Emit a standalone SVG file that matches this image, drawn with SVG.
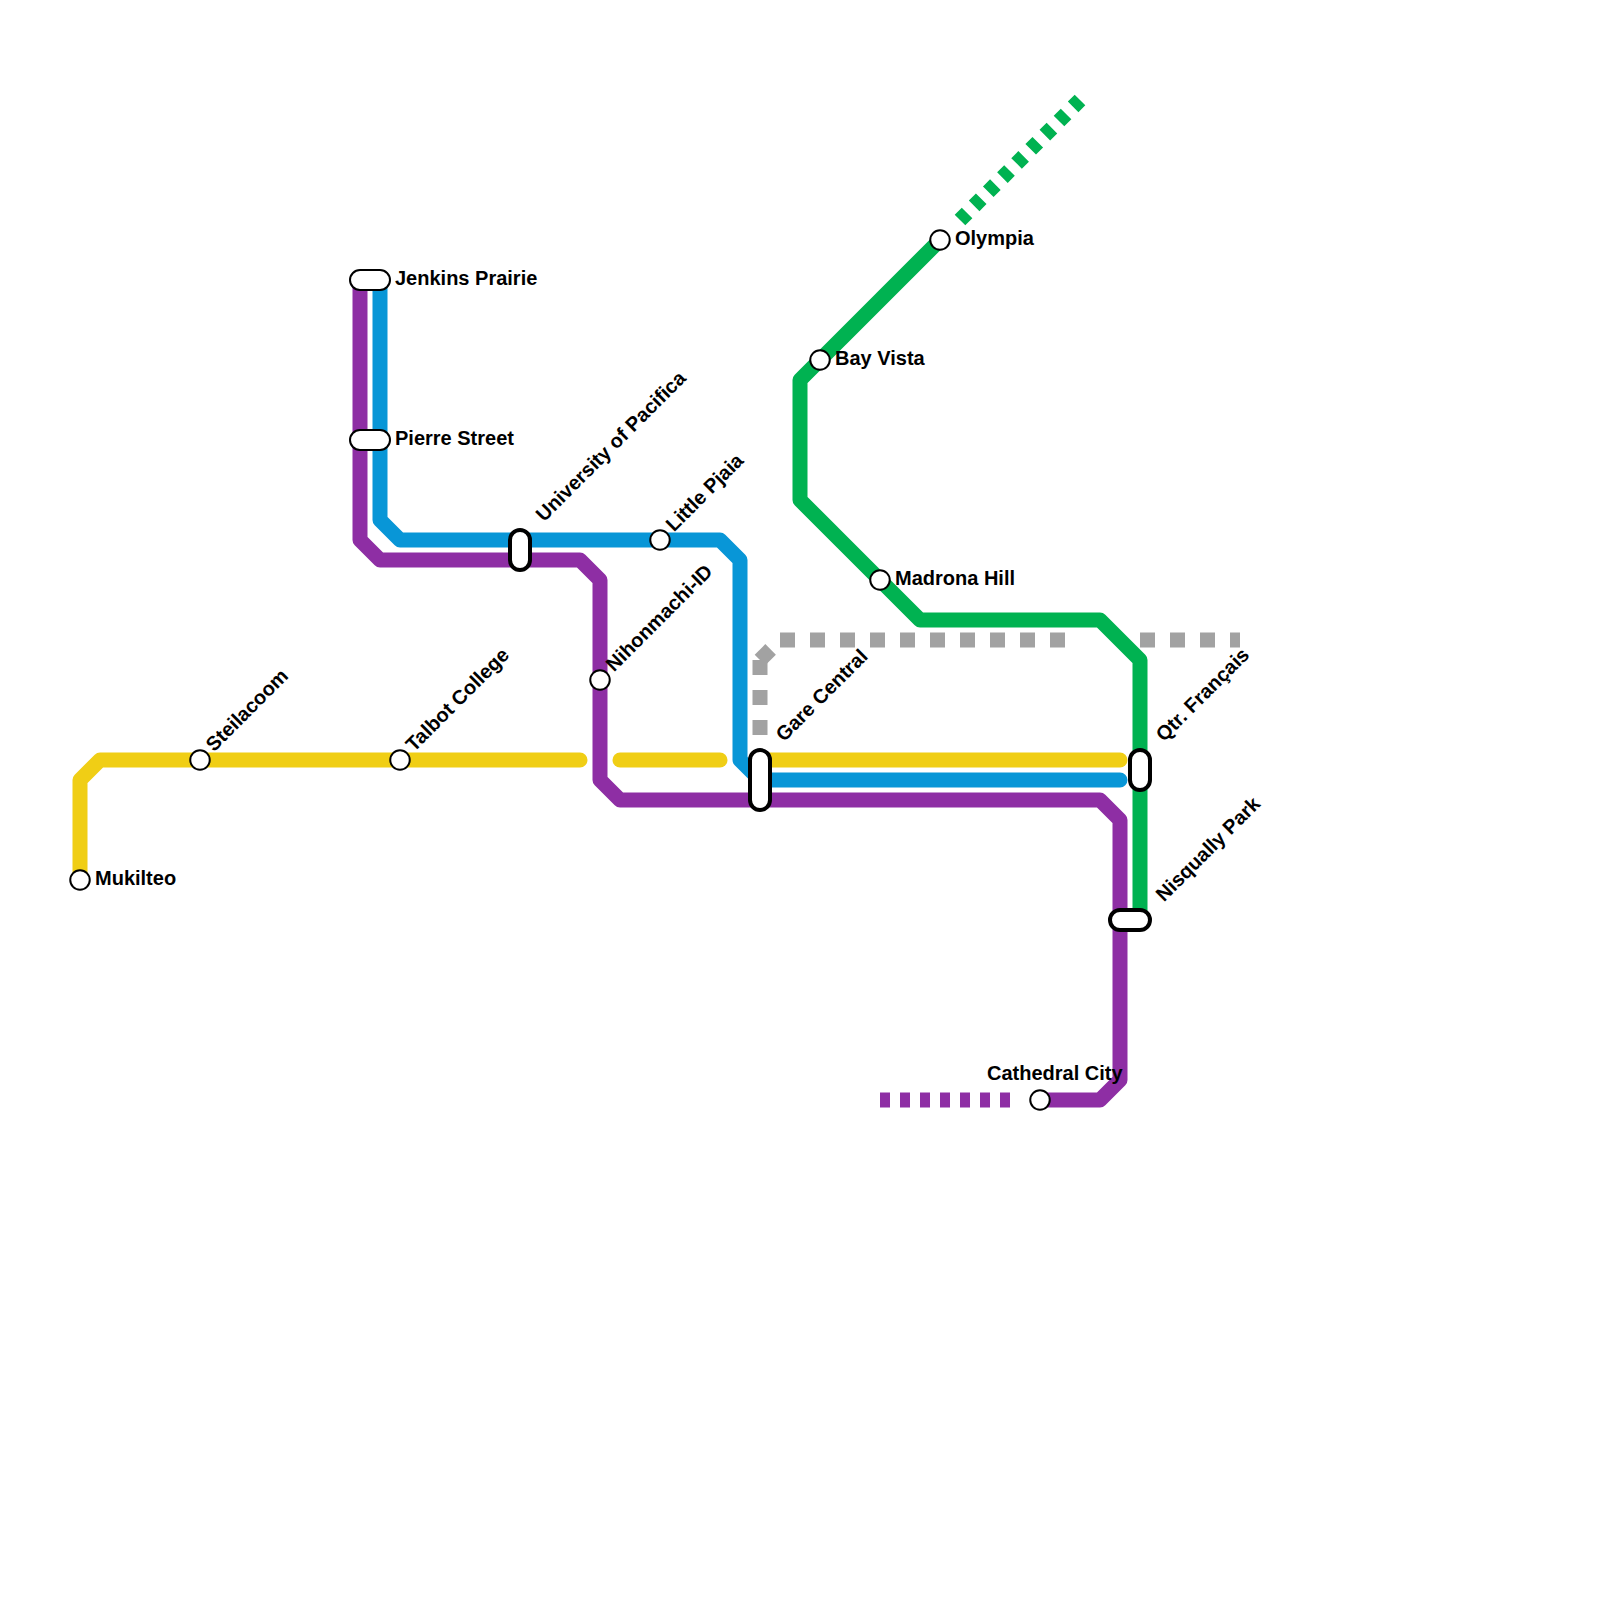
<svg xmlns="http://www.w3.org/2000/svg" width="1600" height="1600" viewBox="0 0 1600 1600">
<style>
.l{fill:none;stroke-width:15;stroke-linecap:round;stroke-linejoin:round}
.d{fill:none;stroke-width:15;stroke-linecap:butt}
.y{stroke:#f0ce15}.b{stroke:#0896d7}.p{stroke:#8e2ea4}.g{stroke:#00b251}.a{stroke:#a2a2a2}
.d2{stroke-dasharray:10 10}.d3{stroke-dasharray:15 15}
.s{fill:#fff;stroke:#000;stroke-width:2}
.t{fill:#fff;stroke:#000;stroke-width:4}
text{font-family:"Liberation Sans",Arial,sans-serif;font-size:20px;font-weight:bold;fill:#000}
</style>
<rect width="1600" height="1600" fill="#fff"/>
<g id="connectors">
<path class="d a d3" d="M760 660L780 640"/>
<path class="d a d3" d="M760 660V740"/>
<path class="d a d3" d="M780 640H1080"/>
<path class="d a d3" d="M1140 640H1240"/>
<path class="l y" d="M80 880V780L100 760H580"/>
<path class="l y" d="M620 760H720"/>
<path class="l y" d="M760 760H1120"/>
<path class="l p" d="M360 280V540L380 560H580L600 580V780L620 800H1100L1120 820V1080L1100 1100H1040"/>
<path class="d p d2" d="M880 1100H1010"/>
<path class="l b" d="M380 280V520L400 540H720L740 560V760L760 780H1120"/>
<path class="l g" d="M940 240L800 380V500L920 620H1100L1140 660V920"/>
<path class="d g d2" d="M960 220L1080 100"/>
</g>
<g id="mukilteo"><circle class="s" cx="80" cy="880" r="9.75"/><text x="95" y="885">Mukilteo</text></g>
<g id="steilacoom"><circle class="s" cx="200" cy="760" r="9.75"/><text transform="translate(214 752.5) rotate(-45)">Steilacoom</text></g>
<g id="talbot-college"><circle class="s" cx="400" cy="760" r="9.75"/><text transform="translate(414 752.5) rotate(-45)">Talbot College</text></g>
<g id="jenkins-prairie"><rect class="s" x="350" y="270" width="40" height="20" rx="10"/><text x="395" y="285">Jenkins Prairie</text></g>
<g id="pierre-street"><rect class="s" x="350" y="430" width="40" height="20" rx="10"/><text x="395" y="445">Pierre Street</text></g>
<g id="university-of-pacifica"><rect class="t" x="510" y="530" width="20" height="40" rx="10"/><text transform="translate(544 522.5) rotate(-45)">University of Pacifica</text></g>
<g id="little-pjaia"><circle class="s" cx="660" cy="540" r="9.75"/><text transform="translate(674 532.5) rotate(-45)">Little Pjaia</text></g>
<g id="nihonmachi-id"><circle class="s" cx="600" cy="680" r="9.75"/><text transform="translate(614 672.5) rotate(-45)">Nihonmachi-ID</text></g>
<g id="gare-central"><rect class="t" x="750" y="750" width="20" height="60" rx="10"/><text transform="translate(784 742.5) rotate(-45)">Gare Central</text></g>
<g id="bay-vista"><circle class="s" cx="820" cy="360" r="9.75"/><text x="835" y="365">Bay Vista</text></g>
<g id="olympia"><circle class="s" cx="940" cy="240" r="9.75"/><text x="955" y="245">Olympia</text></g>
<g id="madrona-hill"><circle class="s" cx="880" cy="580" r="9.75"/><text x="895" y="585">Madrona Hill</text></g>
<g id="qtr-francais"><rect class="t" x="1130" y="750" width="20" height="40" rx="10"/><text transform="translate(1164 742.5) rotate(-45)">Qtr. Français</text></g>
<g id="nisqually-park"><rect class="t" x="1110" y="910" width="40" height="20" rx="10"/><text transform="translate(1164 902.5) rotate(-45)">Nisqually Park</text></g>
<g id="cathedral-city"><circle class="s" cx="1040" cy="1100" r="9.75"/><text x="987" y="1080">Cathedral City</text></g>
</svg>
